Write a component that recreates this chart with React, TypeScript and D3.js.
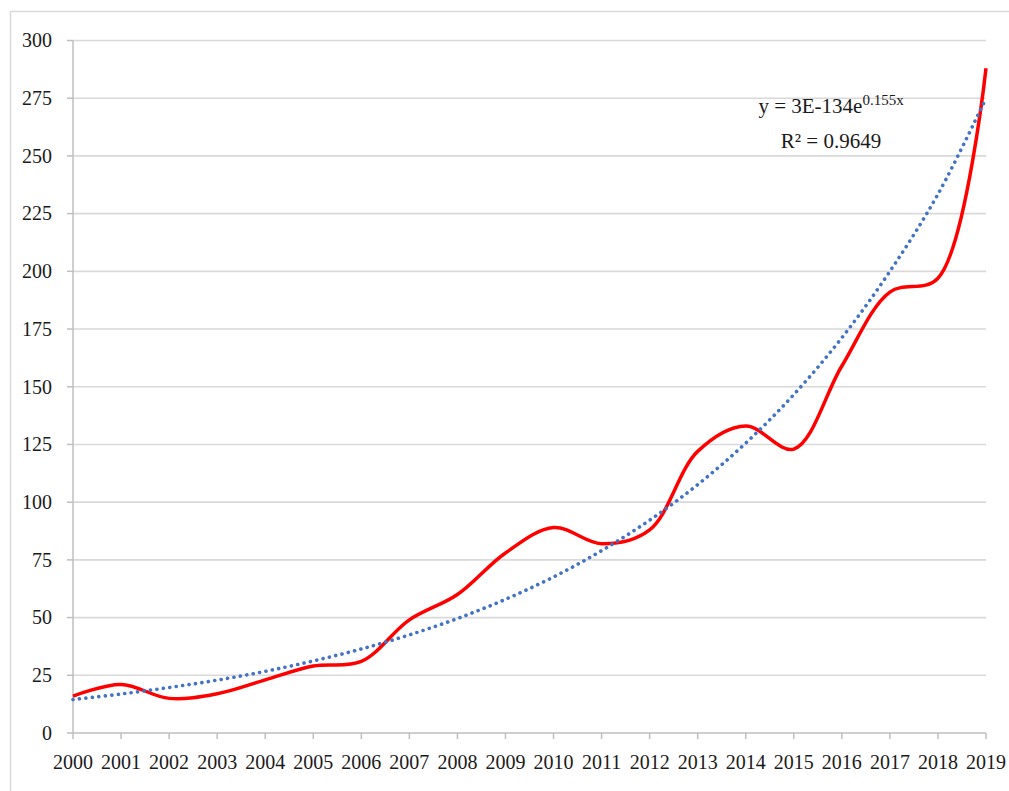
import React from 'react';
import * as d3 from 'd3';

const years = [2000, 2001, 2002, 2003, 2004, 2005, 2006, 2007, 2008, 2009, 2010, 2011, 2012, 2013, 2014, 2015, 2016, 2017, 2018, 2019];
const counts = [16, 21, 15, 17, 23, 29, 31, 49, 60, 78, 89, 82, 88, 122, 133, 123, 159, 191, 197, 288];
// exponential trend values
const trend = [14.5, 16.9, 19.7, 22.9, 26.7, 31.2, 36.4, 42.5, 49.6, 57.9, 67.6, 79, 92.2, 107.6, 125.6, 146.6, 171.2, 200, 233.4, 275];
const yTicks = [0, 25, 50, 75, 100, 125, 150, 175, 200, 225, 250, 275, 300];

const textStyle: React.CSSProperties = { fontFamily: "'Liberation Serif', 'DejaVu Serif', serif", fill: '#1a1a1a' };

export default function App() {
  const width = 1009;
  const height = 791;
  const margin = { left: 73, right: 23, top: 40.5, bottom: 58 };

  const x = d3.scaleLinear().domain([2000, 2019]).range([margin.left, width - margin.right]);
  const y = d3.scaleLinear().domain([0, 300]).range([height - margin.bottom, margin.top]);

  const line = d3.line<number>()
    .x((d, i) => x(years[i]))
    .y(d => y(d))
    .curve(d3.curveCatmullRom.alpha(0.5));

  const x0 = x(2000);
  const x1 = x(2019);
  const yBase = y(0);

  return (
    <svg width={width} height={height} style={{ position: 'absolute', left: 0, top: 0, background: '#fff' }}>
      {/* outer frame */}
      <line x1={10} y1={11.5} x2={width} y2={11.5} stroke="#d9d9d9" strokeWidth={1.5} />
      <line x1={10.5} y1={11} x2={10.5} y2={height} stroke="#d9d9d9" strokeWidth={1.5} />

      {/* gridlines */}
      {yTicks.filter(t => t > 0).map(t => (
        <line key={t} x1={x0} x2={x1} y1={y(t)} y2={y(t)} stroke="#d9d9d9" strokeWidth={1.6} />
      ))}

      {/* y axis */}
      <line x1={x0} x2={x0} y1={y(300)} y2={yBase} stroke="#bfbfbf" strokeWidth={1.5} />
      {yTicks.map(t => (
        <g key={t}>
          <line x1={x0 - 6} x2={x0} y1={y(t)} y2={y(t)} stroke="#bfbfbf" strokeWidth={1.5} />
          <text x={52} y={y(t)} dy="0.34em" textAnchor="end" fontSize={20} style={textStyle}>{t}</text>
        </g>
      ))}

      {/* x axis */}
      <line x1={x0} x2={x1} y1={yBase} y2={yBase} stroke="#bfbfbf" strokeWidth={1.5} />
      {years.map(yr => (
        <g key={yr}>
          <line x1={x(yr)} x2={x(yr)} y1={yBase} y2={yBase + 6} stroke="#bfbfbf" strokeWidth={1.5} />
          <text x={x(yr)} y={769} textAnchor="middle" fontSize={20} style={textStyle}>{yr}</text>
        </g>
      ))}

      {/* data */}
      <path d={line(counts) || ''} fill="none" stroke="#ff0000" strokeWidth={3.5} strokeLinejoin="round" />
      <path d={line(trend) || ''} fill="none" stroke="#4472c4" strokeWidth={3.6} strokeLinecap="round" strokeDasharray="0.1 6.4" />

      {/* trend equation */}
      <text x={831} y={113} textAnchor="middle" fontSize={21} style={textStyle}>
        y = 3E-134e<tspan fontSize={15} dy={-8}>0.155x</tspan>
      </text>
      <text x={831} y={148} textAnchor="middle" fontSize={21} style={textStyle}>R² = 0.9649</text>
    </svg>
  );
}
